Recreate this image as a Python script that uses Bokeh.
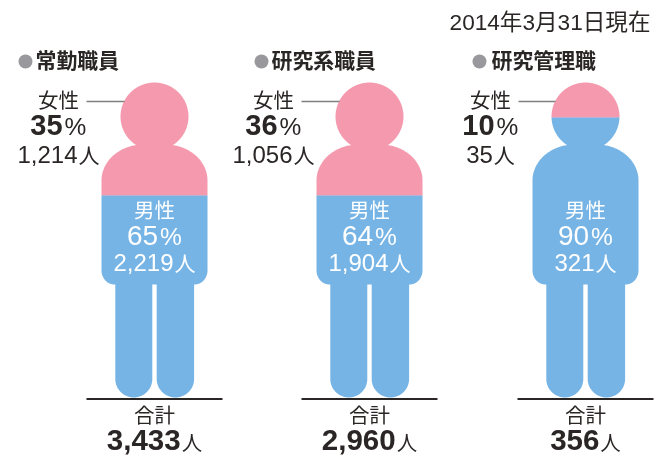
import math
from bokeh.plotting import figure
from bokeh.core.properties import value
from bokeh.embed import file_html
from bokeh.resources import INLINE

date_label = "2014年3月31日現在"
groups = ["常勤職員", "研究系職員", "研究管理職"]
female_pct = [35, 36, 10]
male_pct = [65, 64, 90]
female_n = ["1,214", "1,056", "35"]
male_n = ["2,219", "1,904", "321"]
totals = ["3,433", "2,960", "356"]
female_word = "女性"
male_word = "男性"
total_word = "合計"
unit = "人"

PINK = "#F59AAE"
BLUE = "#76B4E5"
INK = "#2A2625"
GREY = "#98989D"
FONT = value("Liberation Sans, Noto Sans CJK JP")

p = figure(width=667, height=457, x_range=(0, 667), y_range=(457, 0),
           output_backend="svg", toolbar_location=None, min_border=0,
           outline_line_color=None, background_fill_color=None, border_fill_color=None)
p.axis.visible = False
p.grid.visible = False
p.styles = {"position": "fixed", "left": "0px", "top": "0px"}


def arc(cx, cy, rx, ry, a0, a1, n=40):
    return [(cx + rx * math.cos(math.radians(a0 + (a1 - a0) * i / n)),
             cy + ry * math.sin(math.radians(a0 + (a1 - a0) * i / n))) for i in range(n + 1)]


def clip(poly, y, keep_above):
    out = []
    inside = (lambda q: q[1] <= y) if keep_above else (lambda q: q[1] >= y)
    for i, a in enumerate(poly):
        b = poly[(i + 1) % len(poly)]
        if inside(a):
            out.append(a)
        if inside(a) != inside(b):
            t = (y - a[1]) / (b[1] - a[1])
            out.append((a[0] + t * (b[0] - a[0]), y))
    return out


def silhouette(c):
    head = arc(c, 116, 34, 34, 0, 360, 120)
    torso = (arc(c - 11, 180, 42, 36, 180, 270) + arc(c + 11, 180, 42, 36, 270, 360)
             + arc(c + 40, 270, 13, 14, 0, 90) + arc(c - 40, 270, 13, 14, 90, 180))
    leg_r = 18.7
    left = [(c - 39.2, 280), (c - 2.2, 280)] + arc(c - 20.7, 378.5, leg_r - .2, 18.5, 0, 180)
    right = [(c + 2.2, 280), (c + 39.6, 280)] + arc(c + 20.9, 378.5, leg_r, 18.5, 0, 180)
    return [head, torso, left, right]


def part(poly, color):
    if poly:
        p.patch([q[0] for q in poly], [q[1] for q in poly], fill_color=color, line_color=None)


def txt(x, y, s, size, color=INK, align="center", bold=False):
    p.text([x], [y], text=[s], text_font=FONT, text_font_size=f"{size}px",
           text_color=color, text_align=align, text_baseline="middle",
           text_font_style="bold" if bold else "normal")


def width(s, size):
    return sum((0.278 if ch == "," else 0.556) * size for ch in s)


def pair(cx, base, number, nsize, tail, tsize, twidth, color=INK, bold=True, gap=1):
    w = width(number, nsize)
    left = cx - (w + gap + twidth) / 2
    txt(left + w, base - 0.35 * nsize, number, nsize, color, "right", bold)
    txt(left + w + gap, base - 0.35 * tsize, tail, tsize, color, "left", False)


centers = [154, 369, 585]
label_centers = [58, 273, 490]
dot_x = [25, 261, 479]
title_x = [35, 271, 491]
splits = [195, 195, 117]

txt(650, 22, date_label, 22.6, align="right")

for i, c in enumerate(centers):
    for poly in silhouette(c):
        part(clip(poly, splits[i] + .3, True), PINK)
        part(clip(poly, splits[i], False), BLUE)

    p.line([c - 68, c + 68], [398.5, 398.5], line_color=INK, line_width=2)
    p.scatter([dot_x[i]], [61], size=14, marker="circle", fill_color=GREY, line_color=None)
    txt(title_x[i], 60, groups[i], 20.9, align="left", bold=True)

    lc = label_centers[i]
    txt(lc, 100, female_word, 20.5)
    p.line([lc + 28, c - 30], [101, 101], line_color="#808080", line_width=1.5)
    pair(lc, 135, str(female_pct[i]), 29, "%", 24.5, 22, gap=2)
    pair(lc, 162.5, female_n[i], 24, unit, 21, 21, bold=False)

    txt(c, 210, male_word, 20.5, "white")
    pair(c, 245, str(male_pct[i]), 28, "%", 24.5, 22, "white", bold=False, gap=2)
    pair(c, 270.5, male_n[i], 24, unit, 21, 21, "white", bold=False)

    txt(c, 415, total_word, 20.5)
    pair(c, 450, totals[i], 29.5, unit, 20.5, 20.5)

open("out.html", "w").write(file_html(p, INLINE))
